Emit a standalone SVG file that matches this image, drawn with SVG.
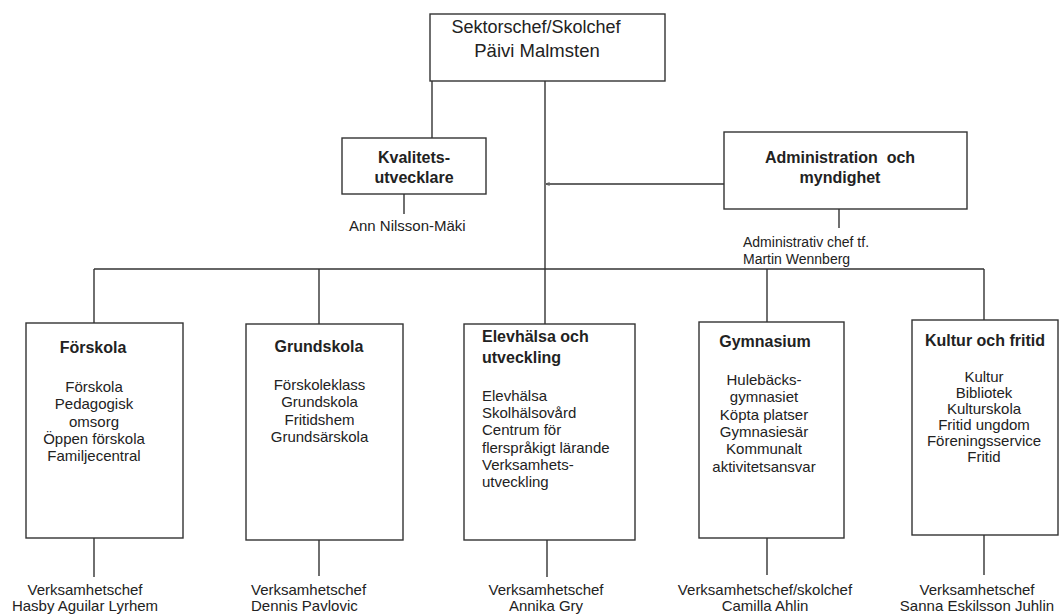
<svg xmlns="http://www.w3.org/2000/svg" width="1059" height="614" viewBox="0 0 1059 614">
<defs>
<style>
.box{fill:#fff;stroke:#333;stroke-width:1.4}
.ln{stroke:#333;stroke-width:1.4;fill:none}
text{font-family:"Liberation Sans",Arial,sans-serif;fill:#222}
.b{font-size:16px;font-weight:bold}
.s{font-size:15px}
.m{text-anchor:middle}
</style>
<marker id="ah" viewBox="0 0 8 8" refX="8" refY="4" markerWidth="3" markerHeight="3" orient="auto">
<path d="M0,0 L8,4 L0,8" fill="none" stroke="#555" stroke-width="1.2"/>
</marker>
</defs>
<rect width="1059" height="614" fill="#fff"/>
<g id="connectors">
<line class="ln" x1="432" y1="81" x2="432" y2="138"/>
<line class="ln" x1="404" y1="194" x2="404" y2="214"/>
<line class="ln" x1="545" y1="81" x2="545" y2="324"/>
<line class="ln" x1="724" y1="184" x2="546" y2="184" marker-end="url(#ah)"/>
<line class="ln" x1="839" y1="209" x2="839" y2="228"/>
<line class="ln" x1="94" y1="269" x2="984" y2="269"/>
<line class="ln" x1="94" y1="269" x2="94" y2="323"/>
<line class="ln" x1="319" y1="269" x2="319" y2="324"/>
<line class="ln" x1="767" y1="269" x2="767" y2="322"/>
<line class="ln" x1="984" y1="269" x2="984" y2="320"/>
<line class="ln" x1="94" y1="538" x2="94" y2="577"/>
<line class="ln" x1="319" y1="540" x2="319" y2="576"/>
<line class="ln" x1="547" y1="540" x2="547" y2="577"/>
<line class="ln" x1="767" y1="538" x2="767" y2="575"/>
<line class="ln" x1="984" y1="535" x2="984" y2="575"/>
</g>
<g id="sektorschef">
<rect class="box" x="430" y="14" width="235" height="67"/>
<text class="m" x="536" y="33" font-size="18">Sektorschef/Skolchef</text>
<text class="m" x="537" y="57" font-size="18.5">Päivi Malmsten</text>
</g>
<g id="kvalitet">
<rect class="box" x="342" y="138" width="144" height="56"/>
<text class="b m" x="414" y="163">Kvalitets-</text>
<text class="b m" x="414" y="183">utvecklare</text>
<text class="s" x="349" y="231">Ann Nilsson-Mäki</text>
</g>
<g id="administration">
<rect class="box" x="724" y="132" width="243" height="77"/>
<text class="b m" x="840" y="163" xml:space="preserve">Administration  och</text>
<text class="b m" x="840" y="183">myndighet</text>
<text x="743" y="247" font-size="14">Administrativ chef tf.</text>
<text x="743" y="264" font-size="14">Martin Wennberg</text>
</g>
<g id="forskola">
<rect class="box" x="26" y="323" width="157" height="215"/>
<text class="b m" x="93" y="353">Förskola</text>
<text class="s m" x="94" y="392">Förskola</text>
<text class="s m" x="94" y="409.3">Pedagogisk</text>
<text class="s m" x="94" y="426.6">omsorg</text>
<text class="s m" x="94" y="443.9">Öppen förskola</text>
<text class="s m" x="94" y="461.2">Familjecentral</text>
<text class="s m" x="85" y="595">Verksamhetschef</text>
<text class="s m" x="85" y="611">Hasby Aguilar Lyrhem</text>
</g>
<g id="grundskola">
<rect class="box" x="246" y="324" width="157" height="216"/>
<text class="b m" x="319" y="352">Grundskola</text>
<text class="s m" x="319.5" y="390">Förskoleklass</text>
<text class="s m" x="319.5" y="407.3">Grundskola</text>
<text class="s m" x="319.5" y="424.6">Fritidshem</text>
<text class="s m" x="319.5" y="441.9">Grundsärskola</text>
<text class="s" x="251" y="595">Verksamhetschef</text>
<text class="s" x="251" y="611">Dennis Pavlovic</text>
</g>
<g id="elevhalsa">
<rect class="box" x="464" y="324" width="171" height="216"/>
<text class="b" x="482" y="342">Elevhälsa och</text>
<text class="b" x="482" y="363">utveckling</text>
<text class="s" x="482" y="401">Elevhälsa</text>
<text class="s" x="482" y="418.2">Skolhälsovård</text>
<text class="s" x="482" y="435.4">Centrum för</text>
<text class="s" x="482" y="452.6">flerspråkigt lärande</text>
<text class="s" x="482" y="469.8">Verksamhets-</text>
<text class="s" x="482" y="487">utveckling</text>
<text class="s m" x="546" y="595">Verksamhetschef</text>
<text class="s m" x="546" y="611">Annika Gry</text>
</g>
<g id="gymnasium">
<rect class="box" x="699" y="322" width="145" height="216"/>
<text class="b m" x="765" y="347">Gymnasium</text>
<text class="s m" x="764" y="385">Hulebäcks-</text>
<text class="s m" x="764" y="402.3">gymnasiet</text>
<text class="s m" x="764" y="419.6">Köpta platser</text>
<text class="s m" x="764" y="436.9">Gymnasiesär</text>
<text class="s m" x="764" y="454.2">Kommunalt</text>
<text class="s m" x="764" y="471.5">aktivitetsansvar</text>
<text class="s m" x="765" y="595">Verksamhetschef/skolchef</text>
<text class="s m" x="765" y="611">Camilla Ahlin</text>
</g>
<g id="kultur">
<rect class="box" x="912" y="320" width="146" height="215"/>
<text class="b m" x="985" y="346">Kultur och fritid</text>
<text class="s m" x="984" y="382">Kultur</text>
<text class="s m" x="984" y="398">Bibliotek</text>
<text class="s m" x="984" y="414">Kulturskola</text>
<text class="s m" x="984" y="430">Fritid ungdom</text>
<text class="s m" x="984" y="446">Föreningsservice</text>
<text class="s m" x="984" y="462">Fritid</text>
<text class="s m" x="977" y="595">Verksamhetschef</text>
<text class="s m" x="977" y="611">Sanna Eskilsson Juhlin</text>
</g>
</svg>
